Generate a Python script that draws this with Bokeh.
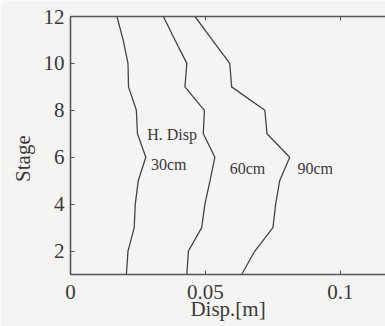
from bokeh.plotting import figure
from bokeh.models import LinearAxis, FixedTicker, Range1d, ColumnDataSource
from bokeh.core.properties import value
from bokeh.embed import file_html
from bokeh.resources import INLINE

stages = [1, 2, 3, 4, 5, 6, 7, 8, 9, 10, 11, 12]
disp_30 = [0.0207, 0.0213, 0.0236, 0.0240, 0.0251, 0.0279, 0.0248, 0.0244, 0.0215, 0.0213, 0.0195, 0.0172]
disp_60 = [0.0431, 0.0437, 0.0486, 0.0498, 0.0517, 0.0535, 0.0492, 0.0496, 0.0424, 0.0431, 0.0387, 0.0344]
disp_90 = [0.0634, 0.0683, 0.0750, 0.0760, 0.0775, 0.0812, 0.0728, 0.0720, 0.0597, 0.0590, 0.0525, 0.0461]

x_ticks = [0, 0.05, 0.1]
x_tick_labels = {0: "0", 0.05: "0.05", 0.1: "0.1"}
y_ticks = [2, 4, 6, 8, 10, 12]

label_texts = ["H. Disp", "30cm", "60cm", "90cm"]
label_x = [0.0284, 0.0298, 0.0590, 0.0841]
label_y = [6.98, 5.70, 5.53, 5.53]

FONT = "Liberation Serif"
TICK_FONT = "'Liberation Serif', serif"
BG = "#f4f4f2"
INK = "#3a3a3a"

p = figure(width=385, height=326, output_backend="svg", toolbar_location=None,
           x_range=Range1d(0, 0.1167), y_range=Range1d(1, 12),
           x_axis_location=None, y_axis_location=None,
           min_border_left=70, min_border_right=0, min_border_top=16, min_border_bottom=52)
p.background_fill_color = BG
p.border_fill_color = BG
p.outline_line_color = None
p.grid.visible = False

xb = LinearAxis(ticker=FixedTicker(ticks=x_ticks), major_label_overrides=x_tick_labels,
                axis_label="Disp.[m]")
yl = LinearAxis(ticker=FixedTicker(ticks=y_ticks), axis_label="Stage\u00a0\u00a0\u00a0\u00a0\u00a0")
xt = LinearAxis(ticker=FixedTicker(ticks=x_ticks),
                major_label_overrides={0: "", 0.05: "", 0.1: ""})
for ax in (xb, yl, xt):
    ax.axis_line_color = "#555555"
    ax.axis_line_width = 1.6
    ax.major_tick_line_color = "#555555"
    ax.major_tick_in = 4
    ax.major_tick_out = 0
    ax.minor_tick_line_color = None
    ax.major_label_text_font = TICK_FONT
    ax.major_label_text_font_size = "21px"
    ax.major_label_text_color = INK
    ax.axis_label_text_font = FONT
    ax.axis_label_text_font_size = "21px"
    ax.axis_label_text_font_style = "normal"
    ax.axis_label_text_color = INK
xb.major_label_standoff = 10
xb.axis_label_standoff = -5
yl.major_label_standoff = 6
yl.axis_label_standoff = 6
xt.major_label_standoff = 0
p.add_layout(xb, "below")
p.add_layout(yl, "left")
p.add_layout(xt, "above")

for d in (disp_30, disp_60, disp_90):
    p.line(x=d, y=stages, line_color="#444444", line_width=1.3)

src = ColumnDataSource(dict(x=label_x, y=label_y, t=label_texts))
p.text(x="x", y="y", text="t", source=src, text_font=value(FONT), text_font_size="16px",
       text_color=INK, text_align="left", text_baseline="middle")

open("out.html", "w").write(file_html(p, INLINE))
